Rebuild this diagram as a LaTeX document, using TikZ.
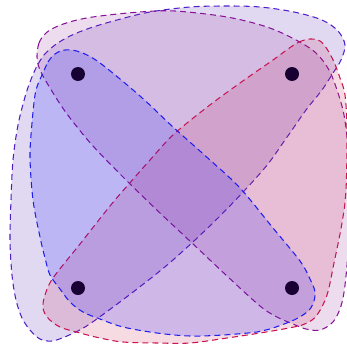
\documentclass[tikz,border=0pt]{standalone}
\definecolor{fOne}{RGB}{75,30,180}
\definecolor{dOne}{RGB}{80,30,200}
\definecolor{fTwo}{RGB}{150,50,155}
\definecolor{dTwo}{RGB}{135,20,150}
\definecolor{fThree}{RGB}{18,11,254}
\definecolor{dThree}{RGB}{30,30,240}
\definecolor{fFour}{RGB}{200,40,90}
\definecolor{dFour}{RGB}{200,20,80}
\definecolor{dotc}{RGB}{25,0,50}
\begin{document}
\begin{tikzpicture}[x=1pt,y=-1pt,
  hull/.style={fill opacity=0.17, draw opacity=1, line width=1.05pt, dash pattern=on 6pt off 4pt},
  dot/.style={circle, fill=dotc, inner sep=0pt, minimum size=14pt}]
\useasboundingbox (0,0) rectangle (347,345);
% S1 = {A,B,C}
\path[hull, fill=fOne, draw=dOne] plot[smooth cycle, tension=0.55] coordinates {
 (36,68) (44,55) (55,45) (70,36) (90,28) (117,20) (150,12) (190,7) (227,6) (260,7) (294,12) (322,20) (338,31) (345,45) (341,60) (333,73) (322,90) (306,110) (285,140) (263,170) (220,216) (173,260) (137,289) (105,313) (85,327) (67,336) (52,341) (40,339) (30,330) (22,318) (16,300) (12,275) (10,240) (11,200) (13,160) (18,125) (25,97) (30,82)};
% S2 = {A,B,D}
\path[hull, fill=fTwo, draw=dTwo] plot[smooth cycle, tension=0.55] coordinates {
 (37,57) (39,43) (46,33) (58,26) (77,20) (100,16) (140,12) (175,11) (227,17) (267,27) (296,40) (316,53) (329,70) (337,90) (344,115) (348,150) (349,200) (348,250) (345,285) (341,306) (333,322) (320,330) (306,329) (293,324) (277,317) (260,306) (227,276) (192,243) (160,213) (128,182) (93,146) (67,114) (50,88) (40,70)};
% S4 = {B,C,D}
\path[hull, fill=fFour, draw=dFour] plot[smooth cycle, tension=0.55] coordinates {
 (288,49) (299,42) (310,39) (320,41) (327,49) (334,62) (340,78) (345,95) (347,130) (346,190) (342,223) (334,263) (327,295) (317,315) (307,323) (294,327) (260,333) (227,338) (190,343) (157,343) (123,342) (100,338) (80,333) (60,327) (48,318) (43,308) (45,295) (53,278) (80,244) (110,206) (128,185) (150,160) (173,135) (206,108) (240,83) (273,60)};
% S3 = {A,C,D}
\path[hull, fill=fThree, draw=dThree] plot[smooth cycle, tension=0.55] coordinates {
 (43,73) (48,62) (55,54) (65,50) (80,52) (100,63) (140,96) (173,127) (210,160) (240,188) (273,228) (300,261) (310,279) (315,292) (313,304) (307,312) (294,320) (270,329) (257,332) (223,335) (190,336) (157,333) (123,327) (100,319) (83,312) (70,302) (60,289) (50,275) (45,258) (40,237) (33,200) (30,157) (32,123) (35,95) (38,84)};
\node[dot] (a) at (78,74) {};
\node[dot] (b) at (292,74) {};
\node[dot] (c) at (78,288) {};
\node[dot] (d) at (292,288) {};
\end{tikzpicture}
\end{document}
